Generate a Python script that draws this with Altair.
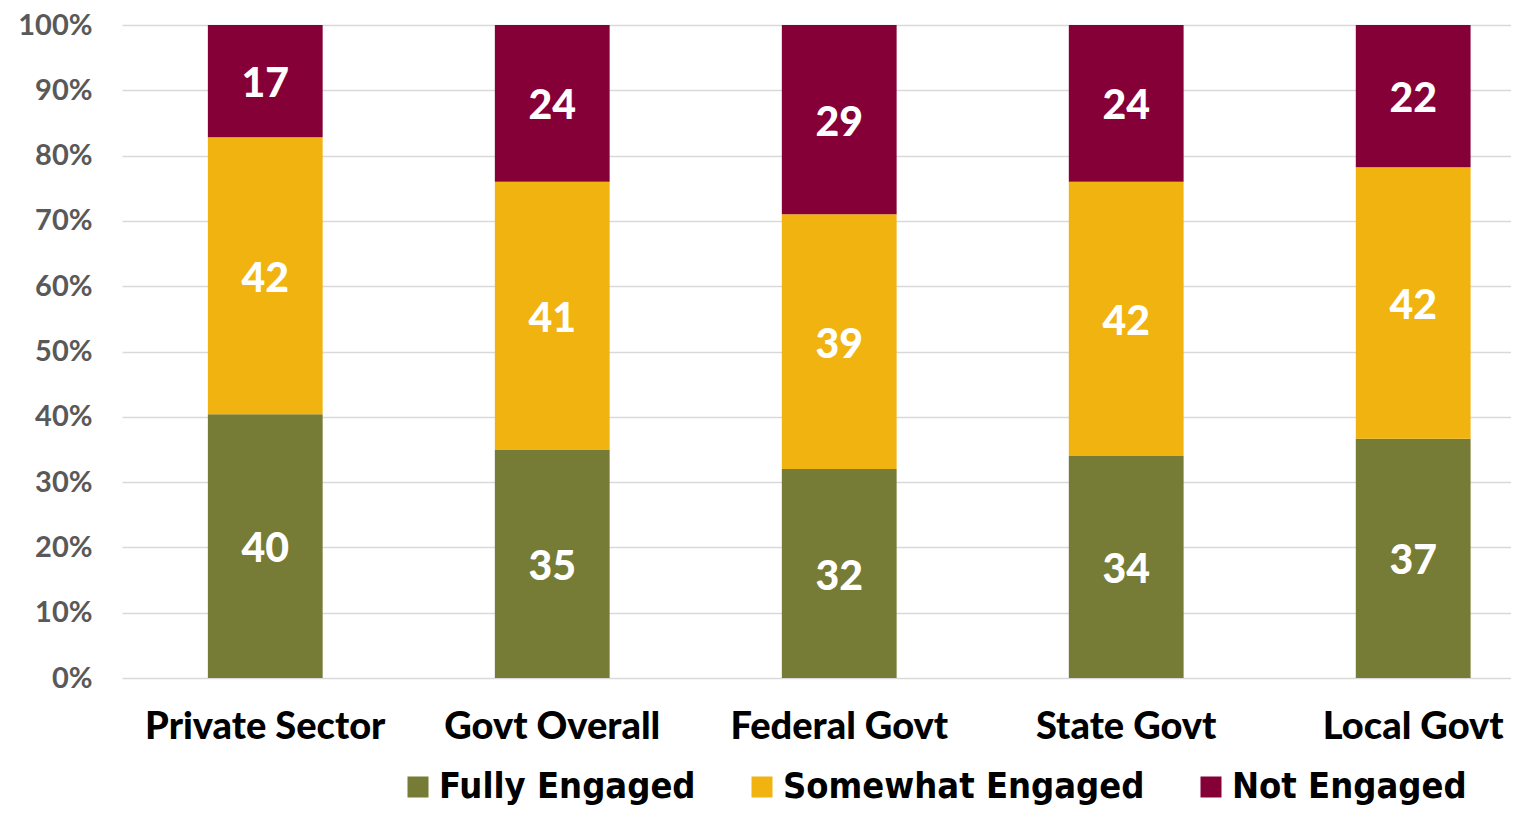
import altair as alt
import pandas as pd

categories = ["Private Sector", "Govt Overall", "Federal Govt", "State Govt", "Local Govt"]
series = ["Fully Engaged", "Somewhat Engaged", "Not Engaged"]
fully = [40, 35, 32, 34, 37]
somewhat = [42, 41, 39, 42, 42]
not_engaged = [17, 24, 29, 24, 22]
colors = ["#767B35", "#F0B310", "#860038"]

rows = []
for i, c in enumerate(categories):
    for k, (s, vals) in enumerate(zip(series, [fully, somewhat, not_engaged])):
        rows.append({"category": c, "series": s, "value": vals[i], "order": k})
df = pd.DataFrame(rows)

base = alt.Chart(df).transform_stack(
    stack="value", groupby=["category"], as_=["y0", "y1"],
    offset="normalize", sort=[alt.SortField("order", order="ascending")]
).transform_calculate(mid="(datum.y0 + datum.y1) / 2")

xenc = alt.X("category:N", sort=categories, title=None,
             scale=alt.Scale(paddingInner=0.6, paddingOuter=0.22, align=0.68),
             axis=alt.Axis(labelAngle=0, domain=False, ticks=False, labelFontSize=38,
                           labelFont="Lato", labelFontWeight=900, labelColor="#000000",
                           labelPadding=30, labelLimit=0))

bars = base.mark_bar().encode(
    x=xenc,
    y=alt.Y("y0:Q", title=None, scale=alt.Scale(domain=[0, 1]),
            axis=alt.Axis(format=".0%", values=[i / 10 for i in range(11)], domain=False,
                          ticks=False, labelFontSize=29, labelFont="Lato",
                          labelFontWeight="bold", labelColor="#595959", labelPadding=30,
                          gridColor="#D9D9D9", gridWidth=1.5)),
    y2="y1:Q",
    color=alt.Color("series:N", scale=alt.Scale(domain=series, range=colors),
                    legend=alt.Legend(title=None, orient="none", direction="horizontal",
                                      legendX=278, legendY=744, symbolType="square",
                                      symbolSize=441, symbolStrokeWidth=0,
                                      labelFont="DejaVu Sans Condensed", labelFontWeight="bold",
                                      labelFontSize=36, labelColor="#000000",
                                      labelOffset=3, columnPadding=48, labelLimit=600)),
)

labels = base.mark_text(color="white", font="Lato", fontWeight=900, fontSize=41,
                        baseline="middle", dy=4).encode(
    x=alt.X("category:N", sort=categories),
    y="mid:Q",
    text="value:Q",
)

chart = (bars + labels).properties(
    width=1389, height=653,
    autosize=alt.AutoSizeParams(type="none"),
    padding={"left": 114, "top": 17, "right": 0, "bottom": 129},
).configure_view(stroke=None)

chart.save("out.html", embed_options={"renderer": "svg", "actions": False})
